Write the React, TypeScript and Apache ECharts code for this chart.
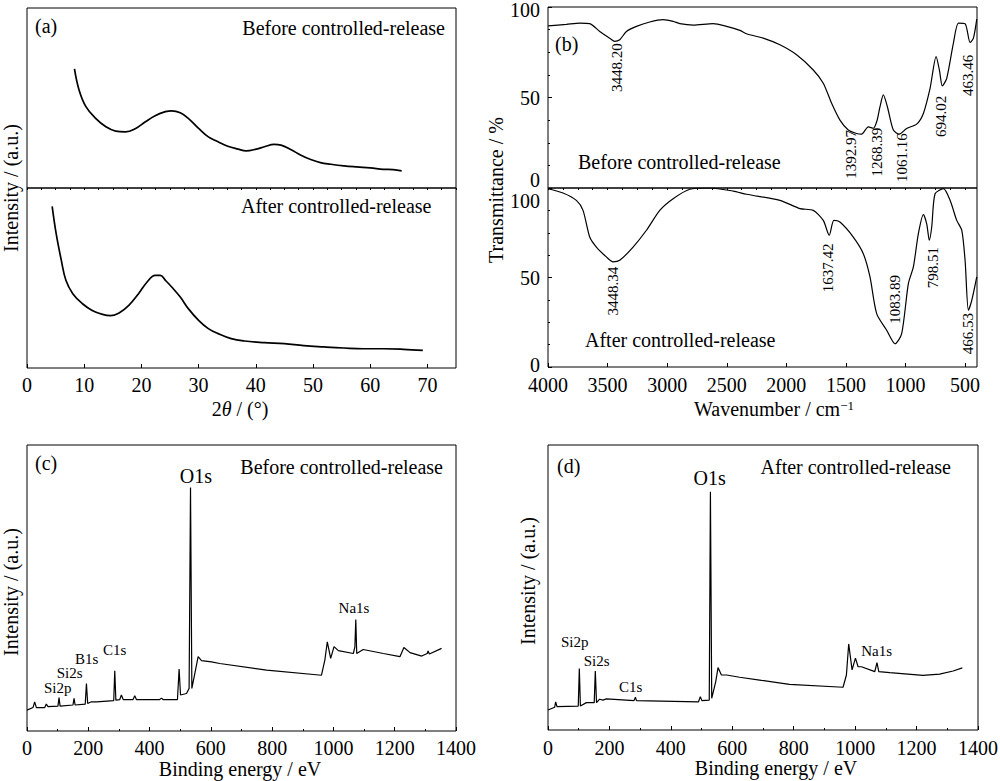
import React, { useEffect, useRef } from 'react';
import * as echarts from 'echarts';

const FONT = 'Liberation Serif';

// ---------- (a) XRD : [2θ, intensity a.u.] ----------
const xrdBefore: [number, number][] = [
  [8.3, 66.2], [9.1, 54.5], [10.3, 45.2], [12.0, 38.7], [13.8, 34.0], [15.5, 31.6], [17.2, 31.2],
  [19.0, 33.1], [20.7, 36.8], [22.4, 40.1], [24.2, 42.4], [25.3, 42.9], [26.8, 41.8], [28.2, 38.7],
  [30.0, 33.1], [31.7, 28.4], [33.4, 25.7], [35.1, 23.2], [36.9, 21.6], [38.3, 20.6], [40.1, 21.6],
  [41.5, 22.9], [43.2, 24.2], [44.4, 23.8], [46.1, 21.4], [47.9, 18.2], [49.6, 15.8], [51.3, 14.1],
  [53.1, 13.2], [55.4, 12.3], [57.7, 11.7], [60.0, 11.2], [62.3, 10.4], [64.0, 10.2], [65.5, 9.5],
];
const xrdAfter: [number, number][] = [
  [4.4, 89.8], [5.1, 74.6], [6.0, 59.8], [6.8, 48.7], [8.0, 41.3], [9.7, 35.7], [11.4, 32.0],
  [13.2, 29.8], [14.6, 29.1], [16.1, 30.6], [17.8, 34.8], [19.5, 41.3], [21.0, 47.8], [22.4, 51.5],
  [23.3, 51.5], [24.2, 48.7], [25.3, 45.0], [26.8, 39.4], [28.2, 33.0], [30.0, 26.5], [31.7, 21.9],
  [33.4, 19.1], [35.7, 16.3], [38.0, 15.0], [41.5, 14.1], [45.0, 13.5], [48.4, 12.4], [51.9, 11.7],
  [55.4, 11.1], [58.8, 10.7], [62.3, 10.7], [65.8, 10.4], [69.2, 9.8],
];
const xrdTicks = [0, 10, 20, 30, 40, 50, 60, 70];

// ---------- (b) FTIR : [wavenumber, transmittance %] ----------
const ftirBefore: [number, number][] = [
  [4000, 89.6], [3846, 90.4], [3734, 91.1], [3650, 90.8], [3566, 86.5], [3482, 82.8], [3440, 81.0],
  [3398, 81.9], [3342, 86.5], [3258, 89.3], [3146, 91.7], [3034, 93.0], [2950, 92.1], [2894, 90.8],
  [2782, 90.0], [2614, 90.8], [2502, 89.3], [2390, 87.1], [2334, 85.2], [2194, 82.8], [2054, 79.1],
  [1914, 73.6], [1774, 65.2], [1690, 57.9], [1620, 46.8], [1550, 37.5], [1480, 32.0], [1410, 30.1],
  [1368, 29.8], [1312, 33.8], [1270, 33.0], [1240, 37.0], [1214, 44.9], [1186, 51.4], [1152, 44.9],
  [1102, 32.0], [1052, 29.8], [990, 32.9], [906, 35.3], [850, 41.2], [794, 55.0], [743, 72.6],
  [715, 65.0], [691, 56.4], [654, 60.6], [598, 80.0], [556, 91.1], [500, 90.8], [458, 80.4],
  [430, 82.8], [402, 93.3],
];
const ftirAfter: [number, number][] = [
  [4000, 99.6], [3874, 97.2], [3762, 93.1], [3706, 87.5], [3650, 72.6], [3594, 67.0], [3510, 61.5],
  [3454, 58.7], [3398, 59.6], [3286, 67.0], [3174, 76.4], [3062, 87.5], [2950, 94.0], [2810, 99.3],
  [2650, 100], [2446, 98.3], [2334, 96.5], [2054, 93.1], [1886, 88.5], [1774, 87.5], [1690, 81.9],
  [1640, 73.6], [1601, 81.9], [1550, 81.0], [1438, 72.6], [1354, 63.3], [1298, 50.3], [1242, 29.8],
  [1158, 20.5], [1088, 13.0], [1032, 18.6], [976, 46.6], [934, 55.9], [892, 74.5], [850, 85.1],
  [822, 80.0], [800, 70.8], [780, 78.2], [752, 96.8], [682, 99.6], [626, 93.1], [570, 81.9],
  [528, 76.4], [500, 59.6], [472, 31.7], [444, 37.2], [402, 50.3],
];
const ftirMajorTicks = [500, 1000, 1500, 2000, 2500, 3000, 3500, 4000];
const ftirMinorTicks = [
  500, 625, 750, 875, 1000, 1125, 1250, 1375, 1500, 1625, 1750, 1875, 2000, 2125, 2250, 2375,
  2500, 2625, 2750, 2875, 3000, 3125, 3250, 3375, 3500, 3625, 3750, 3875, 4000,
];
const ftirYTicks = [0, 50, 100];
// peak annotations: [text, wavenumber, transmittance at label top]
const ftirBeforeLabels: [string, number, number][] = [
  ['3448.20', 3424, 80.0], ['1392.97', 1460, 32.0], ['1268.39', 1237, 33.3],
  ['1061.16', 1032, 30.2], ['694.02', 702, 51.0], ['463.46', 478, 73.6],
];
const ftirAfterLabels: [string, number, number][] = [
  ['3448.34', 3452, 56.0], ['1637.42', 1648, 69.0], ['1083.89', 1088, 51.4],
  ['798.51', 767, 67.1], ['466.53', 478, 30.1],
];

// ---------- (c)/(d) XPS : [binding energy eV, intensity a.u.] ----------
const xpsBefore: [number, number][] = [
  [0, 7.3], [19.6, 8.2], [25, 10.2], [30.6, 8.2], [57.8, 8.2], [63, 9.4], [68.6, 8.5], [101, 8.7],
  [104.5, 11.7], [108, 8.7], [150, 9.1], [153.5, 11.4], [157, 9.1], [190, 9.4], [194, 16.6],
  [198, 9.6], [210, 10.2], [226.6, 10.2], [283, 10.6], [286.4, 21.1], [290, 10.8], [302.7, 11.0],
  [308, 12.6], [314, 11.0], [346, 11.0], [351.7, 12.3], [357, 11.0], [433, 11.0], [439, 11.5],
  [444, 11.0], [491, 11.0], [496.4, 21.7], [501, 12.6], [520.6, 13.1], [529, 14.9], [533.6, 85.1],
  [538, 14.9], [547.6, 20.1], [558.5, 26.0], [569.5, 24.6], [602, 24.2], [629, 23.6], [782, 21.3],
  [961, 19.5], [972, 24.8], [980, 31.2], [991, 25.4], [1002, 29.5], [1016, 28.1], [1065, 27.1],
  [1070, 29.4], [1073, 39.0], [1076, 27.1], [1097, 28.5], [1163, 27.1], [1217, 26.0], [1230, 29.2],
  [1250, 27.4], [1288, 26.2], [1306, 27.1], [1309, 28.0], [1313, 26.9], [1353, 28.9],
];
const xpsAfter: [number, number][] = [
  [0, 7.0], [21.8, 8.0], [25, 9.9], [29.3, 8.2], [98.5, 8.4], [102, 21.6], [105.5, 8.4], [125, 9.6],
  [150.5, 9.6], [154, 20.7], [158, 9.6], [168, 10.8], [179, 10.5], [190, 10.9], [280, 10.3],
  [284.6, 11.5], [288, 10.3], [490, 9.9], [496, 11.7], [501, 10.3], [525, 10.5], [528.8, 83.6],
  [533, 11.1], [546, 16.9], [553.6, 21.9], [564.6, 19.3], [581, 19.3], [624, 18.5], [689, 17.5],
  [786, 16.0], [960.6, 15.0], [971.6, 19.3], [979, 30.2], [990, 21.1], [1001, 25.2], [1009.6, 22.2],
  [1020.6, 22.2], [1064, 20.5], [1071, 23.6], [1077, 20.5], [1113, 20.1], [1221, 19.2], [1275, 19.6],
  [1319, 20.7], [1349, 21.8],
];
const xpsTicks = [0, 200, 400, 600, 800, 1000, 1200, 1400];
// element annotations: [text, eV, intensity at label centre, font size]
const xpsBeforeLabels: [string, number, number, number][] = [
  ['O1s', 551, 89.2, 20], ['Na1s', 1067, 43.0, 15], ['C1s', 286, 28.3, 15],
  ['B1s', 195, 25.1, 15], ['Si2s', 139, 20.3, 15], ['Si2p', 100, 15.0, 15],
];
const xpsAfterLabels: [string, number, number, number][] = [
  ['O1s', 526.5, 88.4, 20], ['Si2p', 86.8, 30.9, 15], ['Si2s', 158.5, 24.2, 15],
  ['C1s', 269, 15.1, 15], ['Na1s', 1070, 27.7, 15],
];

const txt = (over: any) => ({ fontFamily: FONT, fill: '#000', ...over });

function hiddenAxis(gridIndex: number, min: number, max: number, extra: any = {}) {
  return {
    type: 'value', gridIndex, min, max,
    axisLine: { show: false }, axisTick: { show: false }, axisLabel: { show: false },
    splitLine: { show: false }, ...extra,
  };
}

const tickAxis = (gridIndex: number, min: number, max: number, len: number, extra: any = {}) => ({
  type: 'value', gridIndex, min, max,
  axisLine: { show: false }, splitLine: { show: false }, axisLabel: { show: false },
  axisTick: { show: true, inside: true, length: len, lineStyle: { color: '#000' } },
  ...extra,
});

export default function App() {
  const ref = useRef<HTMLDivElement>(null);

  useEffect(() => {
    document.body.style.margin = '0';
    const chart = echarts.init(ref.current!, null, { renderer: 'svg' });
    const border = { show: true, borderColor: '#000', borderWidth: 1, backgroundColor: 'transparent' };
    const lineSeries = (data: any, xi: number, yi: number, width: number, smooth: any) => ({
      type: 'line', data, xAxisIndex: xi, yAxisIndex: yi, showSymbol: false, smooth,
      lineStyle: { color: '#000', width }, silent: true,
    });
    const minor = (n: number) => ({ show: true, splitNumber: n, length: 2, lineStyle: { color: '#000' } });

    const option: any = {
      animation: false,
      backgroundColor: '#fff',
      grid: [
        { left: 27, top: 8, width: 429, height: 180, ...border },
        { left: 27, top: 188, width: 429, height: 180, ...border },
        { left: 548, top: 7, width: 429, height: 181, ...border },
        { left: 548, top: 188, width: 429, height: 179, ...border },
        { left: 27, top: 445, width: 429, height: 286, ...border },
        { left: 548, top: 445, width: 430, height: 285, ...border },
      ],
      xAxis: [
        hiddenAxis(0, 0, 75),
        tickAxis(1, 0, 75, 4, { axisTick: { show: true, inside: true, length: 4, customValues: xrdTicks, lineStyle: { color: '#000' } } }),
        tickAxis(1, 0, 75, 2, { interval: 2.5 }),
        hiddenAxis(2, 400, 4000, { inverse: true }),
        tickAxis(3, 400, 4000, 4, { inverse: true, axisTick: { show: true, inside: true, length: 4, customValues: ftirMajorTicks, lineStyle: { color: '#000' } } }),
        tickAxis(3, 400, 4000, 2, { inverse: true, axisTick: { show: true, inside: true, length: 2, customValues: ftirMinorTicks, lineStyle: { color: '#000' } } }),
        tickAxis(4, 0, 1400, 4, { interval: 200, minorTick: minor(2) }),
        tickAxis(5, 0, 1400, 4, { interval: 200, minorTick: minor(2) }),
      ],
      yAxis: [
        hiddenAxis(0, 0, 100),
        hiddenAxis(1, 0, 100),
        tickAxis(2, 0, 100, 4, { interval: 50, minorTick: minor(4) }),
        tickAxis(3, 0, 100, 4, { interval: 50, minorTick: minor(4) }),
        hiddenAxis(4, 0, 100),
        hiddenAxis(5, 0, 100),
      ],
      series: [
        lineSeries(xrdBefore, 0, 0, 1.7, 0.4),
        lineSeries(xrdAfter, 1, 1, 1.7, 0.4),
        lineSeries(ftirBefore, 3, 2, 1.2, 0.25),
        lineSeries(ftirAfter, 4, 3, 1.2, 0.25),
        lineSeries(xpsBefore, 6, 4, 1.2, false),
        lineSeries(xpsAfter, 7, 5, 1.2, false),
      ],
    };
    chart.setOption(option);

    const g: any[] = [];
    const T = (x: number, y: number, text: string, size: number, align: string, extra: any = {}) =>
      g.push({
        type: 'text', x, y, z: 100, ...extra,
        style: txt({ text, fontSize: size, align, textAlign: align, verticalAlign: 'middle', textVerticalAlign: 'middle', ...(extra.style || {}) }),
      });

    // tick labels (placed through the axes' own scales)
    const xLabels = (ticks: number[], seriesIndex: number, y: number) =>
      ticks.forEach((v) => {
        const p = chart.convertToPixel({ seriesIndex }, [v, 0]) as number[];
        T(p[0], y, String(v), 20, 'center');
      });
    xLabels(xrdTicks, 1, 385);
    xLabels(ftirMajorTicks, 3, 385);
    xLabels(xpsTicks, 4, 748);
    xLabels(xpsTicks, 5, 748);
    const yLabels = (seriesIndex: number, nudge: Record<number, number>) =>
      ftirYTicks.forEach((v) => {
        const p = chart.convertToPixel({ seriesIndex }, [4000, v]) as number[];
        T(540, p[1] + (nudge[v] || 0), String(v), 20, 'right');
      });
    yLabels(2, { 0: -8, 100: 3 });
    yLabels(3, { 100: 13, 0: -2 });

    // axis titles
    T(11, 188, 'Intensity / (a.u.)', 20, 'center', { rotation: Math.PI / 2 });
    T(496, 190, 'Transmittance / %', 20, 'center', { rotation: Math.PI / 2 });
    T(11, 592, 'Intensity / (a.u.)', 20, 'center', { rotation: Math.PI / 2 });
    T(528, 581, 'Intensity / (a.u.)', 20, 'center', { rotation: Math.PI / 2 });
    T(240, 409, '2{i|θ} / (°)', 20, 'center', { style: { rich: { i: { fontStyle: 'italic', fontFamily: FONT, fontSize: 20, fill: '#000' } } } });
    T(774, 409, 'Wavenumber / cm{s|−1}', 20, 'center', { style: { rich: { s: { fontFamily: FONT, fontSize: 13, fill: '#000', verticalAlign: 'top' } } } });
    T(240, 769, 'Binding energy / eV', 20, 'center');
    T(776, 768, 'Binding energy / eV', 20, 'center');

    // panel letters & sample captions
    T(35, 26, '(a)', 20, 'left');
    T(555, 44, '(b)', 20, 'left');
    T(35, 463, '(c)', 20, 'left');
    T(557, 466, '(d)', 20, 'left');
    T(445, 28, 'Before controlled-release', 20, 'right');
    T(241, 206, 'After controlled-release', 20, 'left');
    T(578, 162, 'Before controlled-release', 20, 'left');
    T(585, 340, 'After controlled-release', 20, 'left');
    T(443, 467, 'Before controlled-release', 20, 'right');
    T(951, 467, 'After controlled-release', 20, 'right');

    // FTIR peak labels (rotated, hanging below anchor)
    const ftirLabel = (labels: [string, number, number][], seriesIndex: number) =>
      labels.forEach(([text, x, y]) => {
        const p = chart.convertToPixel({ seriesIndex }, [x, y]) as number[];
        T(p[0], p[1], text, 15, 'right', { rotation: Math.PI / 2 });
      });
    ftirLabel(ftirBeforeLabels, 2);
    ftirLabel(ftirAfterLabels, 3);

    // XPS element labels
    const xpsLabel = (labels: [string, number, number, number][], seriesIndex: number) =>
      labels.forEach(([text, x, y, size]) => {
        const p = chart.convertToPixel({ seriesIndex }, [x, y]) as number[];
        T(p[0], p[1], text, size, 'center');
      });
    xpsLabel(xpsBeforeLabels, 4);
    xpsLabel(xpsAfterLabels, 5);

    chart.setOption({ graphic: g });
    return () => chart.dispose();
  }, []);

  return (
    <div
      ref={ref}
      style={{ position: 'fixed', left: 0, top: 0, width: 1000, height: 781, background: '#fff' }}
    />
  );
}
